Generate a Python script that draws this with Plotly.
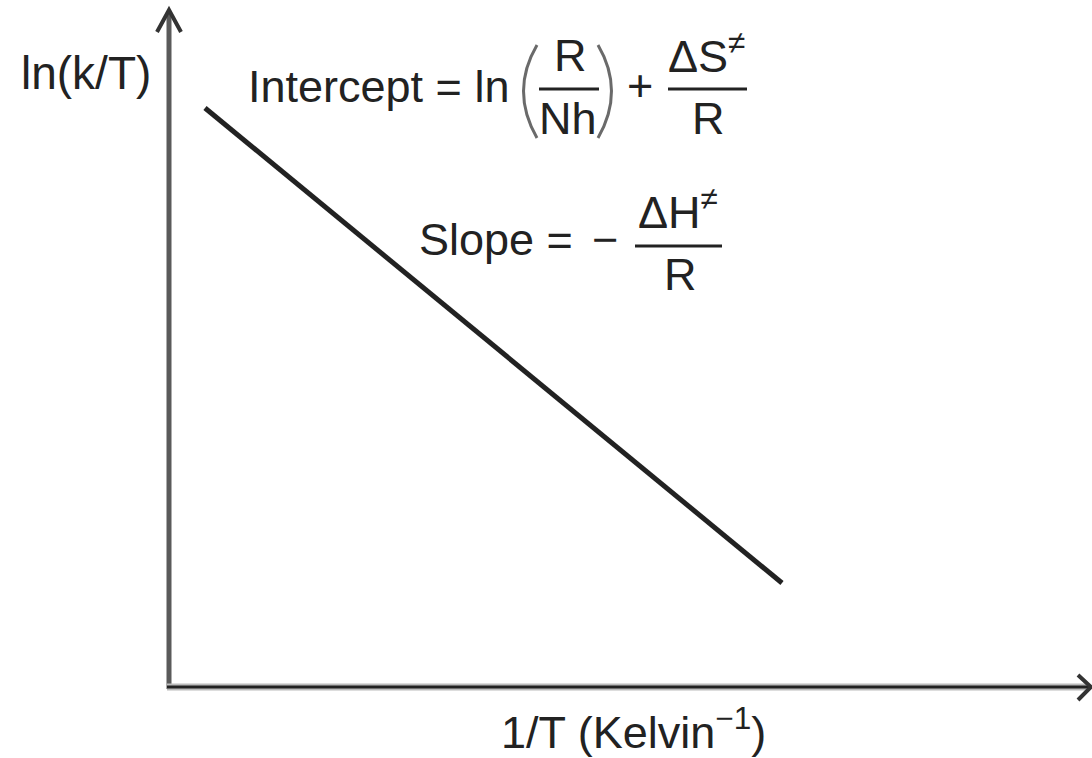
import plotly.graph_objects as go

# Eyring plot: ln(k/T) against 1/T, a straight line of negative slope
inv_T = [0.36, 6.13]
ln_k_over_T = [5.79, 1.04]

# text labels
y_title = "ln(k/T)"
x_title = "1/T (Kelvin<sup>−1</sup>)"

FONT = "Liberation Sans, Arial, Helvetica, sans-serif"
INK = "#222222"
FS = 45

W, H = 1092, 758
OX, OY, SCALE = 169, 687, 100.0  # origin pixel and pixels per unit


def X(p):
    return (p - OX) / SCALE


def Y(p):
    return (OY - p) / SCALE


fig = go.Figure()
fig.add_trace(go.Scatter(
    x=inv_T, y=ln_k_over_T, mode="lines",
    line=dict(color=INK, width=5), hoverinfo="skip", showlegend=False,
))

shapes = []
# y axis with arrowhead
shapes.append(dict(type="line", x0=X(169), y0=Y(689), x1=X(169), y1=Y(12),
                   line=dict(color="#5a5a5a", width=5)))
shapes.append(dict(type="path",
                   path=f"M{X(157)},{Y(32)} L{X(169)},{Y(10)} L{X(181)},{Y(32)}",
                   line=dict(color="#333333", width=4)))
# x axis with arrowhead
shapes.append(dict(type="line", x0=X(167), y0=Y(687), x1=X(1089), y1=Y(687),
                   line=dict(color="#bbbbbb", width=7)))
shapes.append(dict(type="line", x0=X(167), y0=Y(687), x1=X(1089), y1=Y(687),
                   line=dict(color="#222222", width=3)))
shapes.append(dict(type="path",
                   path=f"M{X(1078)},{Y(675)} L{X(1091)},{Y(687)} L{X(1078)},{Y(700)}",
                   line=dict(color="#333333", width=4)))
# parentheses around R/Nh
shapes.append(dict(type="path",
                   path=f"M{X(537)},{Y(45)} Q{X(510)},{Y(91)} {X(537)},{Y(138)}",
                   line=dict(color="#6a6a6a", width=3)))
shapes.append(dict(type="path",
                   path=f"M{X(598)},{Y(45)} Q{X(625)},{Y(91)} {X(598)},{Y(138)}",
                   line=dict(color="#6a6a6a", width=3)))
# fraction bars
for x0, x1, yy in [(539, 599, 89), (668, 747, 89), (635, 722, 246)]:
    shapes.append(dict(type="line", x0=X(x0), y0=Y(yy), x1=X(x1), y1=Y(yy),
                       line=dict(color=INK, width=3)))

annotations = []


def label(text, cx, cy, size=FS):
    annotations.append(dict(
        text=text, x=X(cx), y=Y(cy), xref="x", yref="y",
        xanchor="center", yanchor="middle", showarrow=False,
        font=dict(family=FONT, size=size, color=INK),
    ))


label(y_title, 86, 73, size=46)
label("Intercept = ln", 378, 86)
label("R", 570, 55)
label("Nh", 568, 118)
label("+", 640, 85)
label("ΔS<sup>≠</sup>", 706, 53)
label("R", 708, 118)
label("Slope =", 496, 239)
label("−", 605, 239)
label("ΔH<sup>≠</sup>", 678, 209)
label("R", 680, 274)
label(x_title, 633, 729)

fig.update_layout(
    width=W, height=H, autosize=False,
    margin=dict(l=0, r=0, t=0, b=0, pad=0),
    paper_bgcolor="white", plot_bgcolor="white",
    xaxis=dict(range=[X(0), X(W)], visible=False, fixedrange=True),
    yaxis=dict(range=[Y(H), Y(0)], visible=False, fixedrange=True),
    shapes=shapes, annotations=annotations,
)

fig.write_html("out.html")
